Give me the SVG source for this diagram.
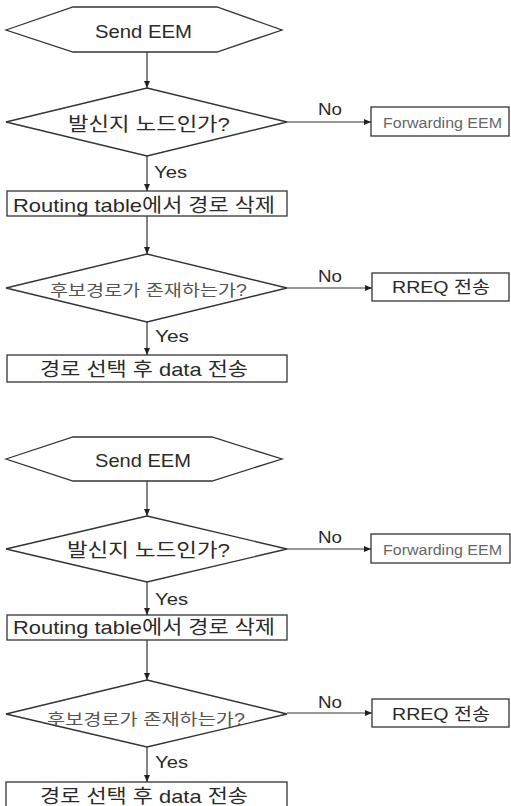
<svg xmlns="http://www.w3.org/2000/svg" width="511" height="806" viewBox="0 0 511 806">
<defs>
<marker id="ah" markerUnits="userSpaceOnUse" markerWidth="8" markerHeight="8" refX="7" refY="4" orient="auto">
<path d="M0,1 L7,4 L0,7 Z" fill="#222"/>
</marker>
<style>
.s{fill:#fff;stroke:#333;stroke-width:1.3}
.c{fill:none;stroke:#333;stroke-width:1.2;marker-end:url(#ah)}
text{font-family:"Liberation Sans","Noto Sans CJK KR",sans-serif;fill:#2a2a2a}
.m{text-anchor:middle}
.big{font-size:19px}
.lbl{font-size:17px}
.sm{font-size:14px;fill:#666}
.g{font-size:16px;fill:#555}
</style>
</defs>
<rect width="511" height="806" fill="#fff"/>
<g id="connectors">
<line class="c" x1="147" y1="52" x2="147" y2="88"/>
<line class="c" x1="287" y1="122" x2="371" y2="122"/>
<line class="c" x1="147" y1="156" x2="147" y2="191"/>
<line class="c" x1="147" y1="216" x2="147" y2="254"/>
<line class="c" x1="287" y1="288" x2="372" y2="288"/>
<line class="c" x1="147" y1="322" x2="147" y2="355"/>
<line class="c" x1="147" y1="481" x2="147" y2="516"/>
<line class="c" x1="287" y1="549" x2="371" y2="549"/>
<line class="c" x1="147" y1="582" x2="147" y2="615"/>
<line class="c" x1="147" y1="640" x2="147" y2="680"/>
<line class="c" x1="287" y1="713" x2="372" y2="713"/>
<line class="c" x1="147" y1="747" x2="147" y2="782"/>
<text class="lbl" x="318" y="115" textLength="24" lengthAdjust="spacingAndGlyphs">No</text>
<text class="lbl" x="154" y="178" textLength="33" lengthAdjust="spacingAndGlyphs">Yes</text>
<text class="lbl" x="318" y="282" textLength="24" lengthAdjust="spacingAndGlyphs">No</text>
<text class="lbl" x="155" y="342" textLength="34" lengthAdjust="spacingAndGlyphs">Yes</text>
<text class="lbl" x="318" y="543" textLength="24" lengthAdjust="spacingAndGlyphs">No</text>
<text class="lbl" x="155" y="605" textLength="33" lengthAdjust="spacingAndGlyphs">Yes</text>
<text class="lbl" x="318" y="708" textLength="24" lengthAdjust="spacingAndGlyphs">No</text>
<text class="lbl" x="155" y="768" textLength="33" lengthAdjust="spacingAndGlyphs">Yes</text>
</g>
<g id="start1">
<polygon class="s" points="6,30 73,7 217,7 282,30 217,52 73,52"/>
<text class="big" x="95" y="38" textLength="97" lengthAdjust="spacingAndGlyphs">Send EEM</text>
</g>
<g id="decision1">
<polygon class="s" points="147,88 287,122 147,156 6,122"/>
<text class="big" x="68" y="131" textLength="162" lengthAdjust="spacingAndGlyphs">발신지 노드인가?</text>
</g>
<g id="forward1">
<rect class="s" x="371" y="107" width="138" height="29"/>
<text class="sm" x="383" y="128" textLength="119" lengthAdjust="spacingAndGlyphs">Forwarding EEM</text>
</g>
<g id="routing1">
<rect class="s" x="7" y="191" width="280" height="25"/>
<text class="big" x="13" y="212" textLength="262" lengthAdjust="spacingAndGlyphs">Routing table에서 경로 삭제</text>
</g>
<g id="decision2">
<polygon class="s" points="147,254 287,288 147,322 6,288"/>
<text class="g" x="50" y="296" textLength="197" lengthAdjust="spacingAndGlyphs">후보경로가 존재하는가?</text>
</g>
<g id="rreq1">
<rect class="s" x="372" y="273" width="137" height="28"/>
<text class="lbl" x="392" y="293" textLength="98" lengthAdjust="spacingAndGlyphs">RREQ 전송</text>
</g>
<g id="select1">
<rect class="s" x="7" y="355" width="280" height="27"/>
<text class="big" x="40" y="376" textLength="208" lengthAdjust="spacingAndGlyphs">경로 선택 후 data 전송</text>
</g>
<g id="start2">
<polygon class="s" points="6,459 73,437 212,437 282,459 212,481 73,481"/>
<text class="big" x="95" y="467" textLength="96" lengthAdjust="spacingAndGlyphs">Send EEM</text>
</g>
<g id="decision3">
<polygon class="s" points="147,516 287,549 147,582 6,549"/>
<text class="big" x="67" y="557" textLength="163" lengthAdjust="spacingAndGlyphs">발신지 노드인가?</text>
</g>
<g id="forward2">
<rect class="s" x="371" y="534" width="139" height="29"/>
<text class="sm" x="383" y="555" textLength="119" lengthAdjust="spacingAndGlyphs">Forwarding EEM</text>
</g>
<g id="routing2">
<rect class="s" x="7" y="615" width="280" height="25"/>
<text class="big" x="13" y="634" textLength="262" lengthAdjust="spacingAndGlyphs">Routing table에서 경로 삭제</text>
</g>
<g id="decision4">
<polygon class="s" points="147,680 287,714 147,747 6,714"/>
<text class="g" x="47" y="725" textLength="198" lengthAdjust="spacingAndGlyphs">후보경로가 존재하는가?</text>
</g>
<g id="rreq2">
<rect class="s" x="372" y="699" width="137" height="28"/>
<text class="lbl" x="392" y="720" textLength="98" lengthAdjust="spacingAndGlyphs">RREQ 전송</text>
</g>
<g id="select2">
<rect class="s" x="6" y="782" width="281" height="30"/>
<text class="big" x="40" y="803" textLength="208" lengthAdjust="spacingAndGlyphs">경로 선택 후 data 전송</text>
</g>
</svg>
